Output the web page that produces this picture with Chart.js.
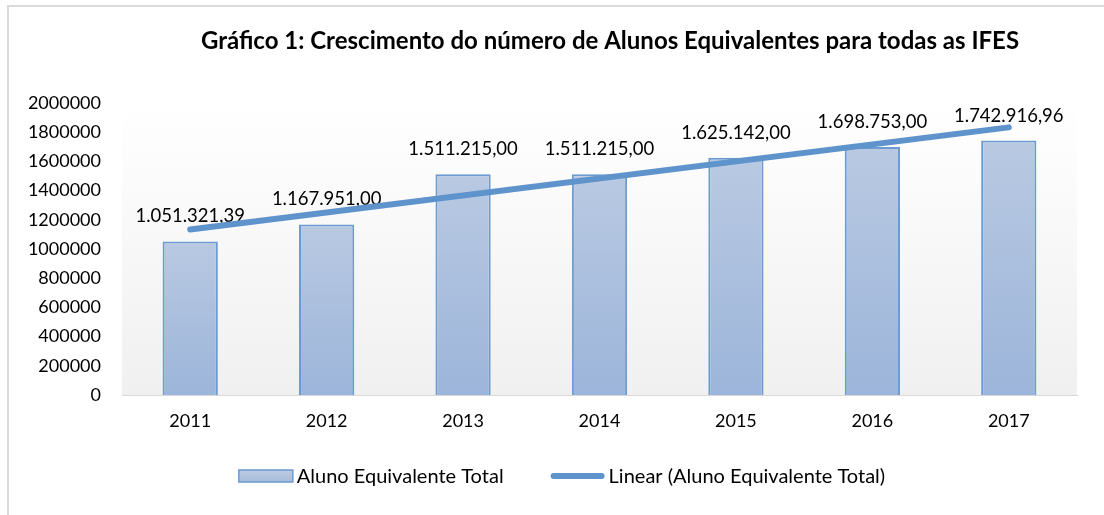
<!DOCTYPE html>
<html>
<head>
<meta charset="utf-8">
<script src="https://cdn.jsdelivr.net/npm/chart.js@4"></script>
<style>
  html, body { margin: 0; padding: 0; background: #fff; }
  #wrap { width: 1104px; height: 515px; position: relative; }
</style>
</head>
<body>
<div id="wrap"><canvas id="chart"></canvas></div>
<script>
const TITLE = 'Gráfico 1: Crescimento do número de Alunos Equivalentes para todas as IFES';
const categories = ['2011', '2012', '2013', '2014', '2015', '2016', '2017'];
const alunosEquivalentes = [1051321.39, 1167951.00, 1511215.00, 1511215.00, 1625142.00, 1698753.00, 1742916.96];
// linear trend line, read at its two ends
const trendYears = ['2011', '2017'];
const trendValues = [1133000, 1833000];
const yMin = 0, yMax = 2000000, yStep = 200000;

const FONT = 'Lato';
const BAR_BORDER = '#6b9bd0';
const LINE_COLOR = '#5f93cb';

// 1.051.321,39 style
function fmtBR(v) {
    const parts = v.toFixed(2).split('.');
    const int = parts[0].replace(/\B(?=(\d{3})+(?!\d))/g, '.');
    return int + ',' + parts[1];
}

// frame + plot background
const backgroundPlugin = {
    id: 'bgFrame',
    beforeDraw(chart) {
        const { ctx, chartArea: a } = chart;
        ctx.save();
        ctx.fillStyle = '#fff';
        ctx.fillRect(0, 0, chart.width, chart.height);
        ctx.fillStyle = '#dadada';
        ctx.fillRect(7, 5, 2, chart.height - 5);
        ctx.fillRect(7, 5, chart.width - 7, 2);
        const g = ctx.createLinearGradient(0, a.top, 0, a.bottom);
        g.addColorStop(0, '#ffffff');
        g.addColorStop(1, '#f0f0f0');
        ctx.fillStyle = g;
        ctx.fillRect(a.left, a.top - 10, a.right - a.left, a.bottom - a.top + 10);
        ctx.restore();
    }
};

// title and legend
const textPlugin = {
    id: 'titleLegend',
    afterDraw(chart) {
        const ctx = chart.ctx;
        ctx.save();
        ctx.font = 'bold 24px ' + FONT;
        ctx.fillStyle = '#000';
        ctx.textAlign = 'center';
        ctx.textBaseline = 'middle';
        ctx.fillText(TITLE, 610, 41);

        const names = chart.data.datasets.map(d => d.label);
        ctx.font = '20px ' + FONT;
        ctx.textAlign = 'left';
        const box = 54, gapText = 4, gapItem = 47, cy = 476;
        const w0 = ctx.measureText(names[0]).width, w1 = ctx.measureText(names[1]).width;
        const total = box + gapText + w0 + gapItem + box + gapText + w1;
        let x = 562 - total / 2;
        const g = ctx.createLinearGradient(0, cy - 6, 0, cy + 6);
        g.addColorStop(0, '#bccbe3');
        g.addColorStop(1, '#a6bcdd');
        ctx.fillStyle = g;
        ctx.fillRect(x, cy - 6, box, 12);
        ctx.strokeStyle = BAR_BORDER;
        ctx.lineWidth = 1.5;
        ctx.strokeRect(x, cy - 6, box, 12);
        ctx.fillStyle = '#000';
        ctx.fillText(names[0], x + box + gapText, cy + 1);
        x += box + gapText + w0 + gapItem;
        ctx.strokeStyle = LINE_COLOR;
        ctx.lineWidth = 6;
        ctx.lineCap = 'round';
        ctx.beginPath();
        ctx.moveTo(x + 3, cy);
        ctx.lineTo(x + box - 3, cy);
        ctx.stroke();
        ctx.fillText(names[1], x + box + gapText, cy + 1);
        ctx.restore();
    }
};

// value labels above the bars
const barLabelPlugin = {
    id: 'barLabels',
    afterDatasetDraw(chart, args) {
        if (args.index !== 0) return;
        const ctx = chart.ctx;
        ctx.save();
        ctx.font = '18.5px ' + FONT;
        ctx.fillStyle = '#000';
        ctx.textAlign = 'center';
        ctx.textBaseline = 'middle';
        args.meta.data.forEach((bar, i) => {
            ctx.fillText(fmtBR(alunosEquivalentes[i]), bar.x, bar.y - 25);
        });
        ctx.restore();
    }
};

new Chart(document.getElementById('chart'), {
    type: 'bar',
    data: {
        labels: categories,
        datasets: [
            {
                label: 'Aluno Equivalente Total',
                data: alunosEquivalentes,
                order: 1,
                backgroundColor(c) {
                    const chart = c.chart;
                    if (!chart.chartArea || c.raw === undefined) return '#adc0de';
                    const y = chart.scales.y;
                    const top = y.getPixelForValue(c.raw), base = y.getPixelForValue(0);
                    const g = chart.ctx.createLinearGradient(0, top, 0, base);
                    g.addColorStop(0, '#b9c9e2');
                    g.addColorStop(1, '#9cb5da');
                    return g;
                },
                borderColor: BAR_BORDER,
                borderWidth: 2,
                borderSkipped: 'start',
                categoryPercentage: 1,
                barPercentage: 0.405
            },
            {
                type: 'line',
                label: 'Linear (Aluno Equivalente Total)',
                data: trendYears.map((x, i) => ({ x: x, y: trendValues[i] })),
                order: 0,
                borderColor: LINE_COLOR,
                borderWidth: 6,
                borderCapStyle: 'round',
                pointRadius: 0,
                fill: false
            }
        ]
    },
    options: {
        responsive: true,
        maintainAspectRatio: false,
        animation: false,
        layout: { padding: { left: 0, right: 27, top: 103, bottom: 60 } },
        scales: {
            x: {
                grid: { display: false, drawTicks: false },
                border: { display: true, color: '#d9d9d9', width: 1 },
                ticks: { color: '#000', font: { family: FONT, size: 18 }, padding: 15 },
                afterFit(s) { s.height = 60; }
            },
            y: {
                min: yMin, max: yMax,
                grid: { display: false, drawTicks: false },
                border: { display: false },
                ticks: {
                    stepSize: yStep,
                    color: '#000',
                    font: { family: FONT, size: 18 },
                    padding: 21,
                    callback: v => String(v)
                },
                afterFit(s) { s.width = 122; }
            }
        },
        plugins: {
            tooltip: { enabled: false },
            legend: { display: false }
        }
    },
    plugins: [backgroundPlugin, barLabelPlugin, textPlugin]
});
</script>
</body>
</html>
